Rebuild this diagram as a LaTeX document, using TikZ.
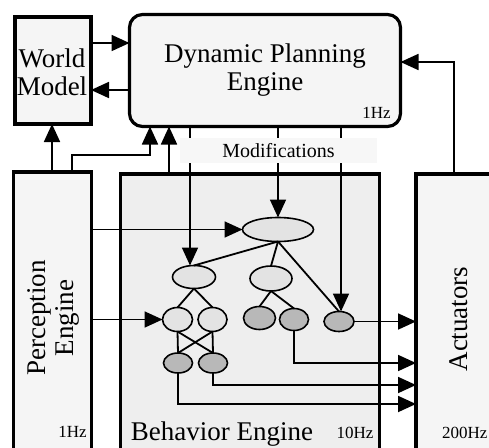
\documentclass[tikz,border=0pt]{standalone}
\usepackage{fontspec}
\setmainfont{Liberation Serif}
\usetikzlibrary{arrows.meta,shapes.geometric}
\definecolor{boxfill}{HTML}{F5F5F5}
\definecolor{behfill}{HTML}{EEEEEE}
\definecolor{lightnode}{HTML}{E3E3E3}
\definecolor{darknode}{HTML}{B8B8B8}
\tikzset{
  block/.style={draw, line width=3.2pt, fill=boxfill, inner sep=0pt, outer sep=0pt},
  bigtext/.style={font=\fontsize{27}{28}\selectfont, align=center, inner sep=0pt},
  ratetext/.style={font=\fontsize{17}{18}\selectfont, inner sep=0pt},
  arr/.style={line width=1.8pt, -{Triangle[length=18pt,width=16pt]}},
  link/.style={line width=1.8pt},
  bnode/.style={ellipse, draw, line width=1.6pt, inner sep=0pt, outer sep=0pt},
  light/.style={bnode, fill=lightnode},
  dark/.style={bnode, fill=darknode},
}
\begin{document}
\begin{tikzpicture}[x=1pt,y=-1pt]
\useasboundingbox (0,0) rectangle (489,447);

% main blocks
\node[block, minimum width=76pt, minimum height=107pt] (wm) at (53,70.5) {};
\node[block, rounded corners=13pt, minimum width=271pt, minimum height=112pt] (dpe) at (265,70.5) {};
\node[block, minimum width=78pt, minimum height=290pt] (per) at (52.5,317) {};
\node[block, fill=behfill, minimum width=259pt, minimum height=288pt] (beh) at (250,318) {};
\node[block, minimum width=82pt, minimum height=288pt] (act) at (457,318) {};

% block labels
\node[bigtext] (wmtext) at (52,72) {World\\Model};
\node[bigtext] (dpetext) at (265,70) {Dynamic Planning\\Engine};
\node[ratetext] (dperate) at (376.5,113) {1Hz};
\node[bigtext, rotate=90] (pertext) at (53,318) {Perception\\Engine};
\node[ratetext] (perrate) at (72.5,432) {1Hz};
\node[bigtext, anchor=base] (behtext) at (222,440) {Behavior Engine};
\node[ratetext] (behrate) at (355,433) {10Hz};
\node[bigtext, rotate=90] (acttext) at (459,319) {Actuators};
\node[ratetext, anchor=west] (actrate) at (442,433) {200Hz};

% behavior tree
\node[light, minimum width=71pt, minimum height=24pt] (root) at (278,229.5) {};
\node[light, minimum width=43pt, minimum height=23pt] (A) at (194,277) {};
\node[light, minimum width=42pt, minimum height=25pt] (B) at (271,278.5) {};
\node[light, minimum width=30pt, minimum height=24pt] (C1) at (177.5,319.5) {};
\node[light, minimum width=29pt, minimum height=24pt] (C2) at (212.5,319.5) {};
\node[dark, minimum width=32pt, minimum height=23pt] (D1) at (259.5,318) {};
\node[dark, minimum width=29pt, minimum height=22pt] (D2) at (294,319.5) {};
\node[dark, minimum width=30pt, minimum height=20pt] (E) at (339,321.5) {};
\node[dark, minimum width=29pt, minimum height=20pt] (F1) at (178,363) {};
\node[dark, minimum width=29pt, minimum height=20pt] (F2) at (213,363) {};

\draw[link] (root.south) -- (A.north);
\draw[link] (root.south) -- (B.north);
\draw[link] (root.south) -- (E.north);
\draw[link] (A.south) -- (C1.north);
\draw[link] (A.south) -- (C2.north);
\draw[link] (B.south) -- (D1.north);
\draw[link] (B.south) -- (D2.north);
\draw[link] (C1.south) -- (F1.north);
\draw[link] (C2.south) -- (F2.north);
\draw[link] (C1.south) -- (F2.north);
\draw[link] (C2.south) -- (F1.north);

% world model <-> planning
\draw[arr] (wm.east |- 0,43) -- (dpe.west |- 0,43);
\draw[arr] (dpe.west |- 0,90) -- (wm.east |- 0,90);

% feedback into the world model and planner
\draw[arr] (per.north -| 52,0) -- (wm.south -| 52,0);
\draw[arr] (per.north -| 72,0) -- (72,155) -- (150,155) -- (dpe.south -| 150,0);
\draw[arr] (beh.north -| 169,0) -- (dpe.south -| 169,0);
\draw[arr] (act.north -| 454,0) |- (dpe.east |- 0,62);

% modifications from the planner
\draw[arr] (dpe.south -| 190,0) -- (A.north -| 190,0);
\draw[arr] (dpe.south -| root.north) -- (root.north);
\draw[arr] (dpe.south -| 341,0) -- (E.north -| 341,0);
\node[fill=white!97!black, minimum width=197pt, minimum height=25pt, inner sep=0pt,
      font=\fontsize{20}{20}\selectfont] (mods) at (278.5,150.5) {Modifications};

% perception into the tree
\draw[arr] (per.east |- root.west) -- (root.west);
\draw[arr] (per.east |- C1.west) -- (C1.west);

% commands to the actuators
\draw[arr] (E.east) -- (act.west |- E.east);
\draw[arr] (D2.south) |- (act.west |- 0,363);
\draw[arr] (F2.south) |- (act.west |- 0,385);
\draw[arr] (F1.south) |- (act.west |- 0,404);
\end{tikzpicture}
\end{document}
